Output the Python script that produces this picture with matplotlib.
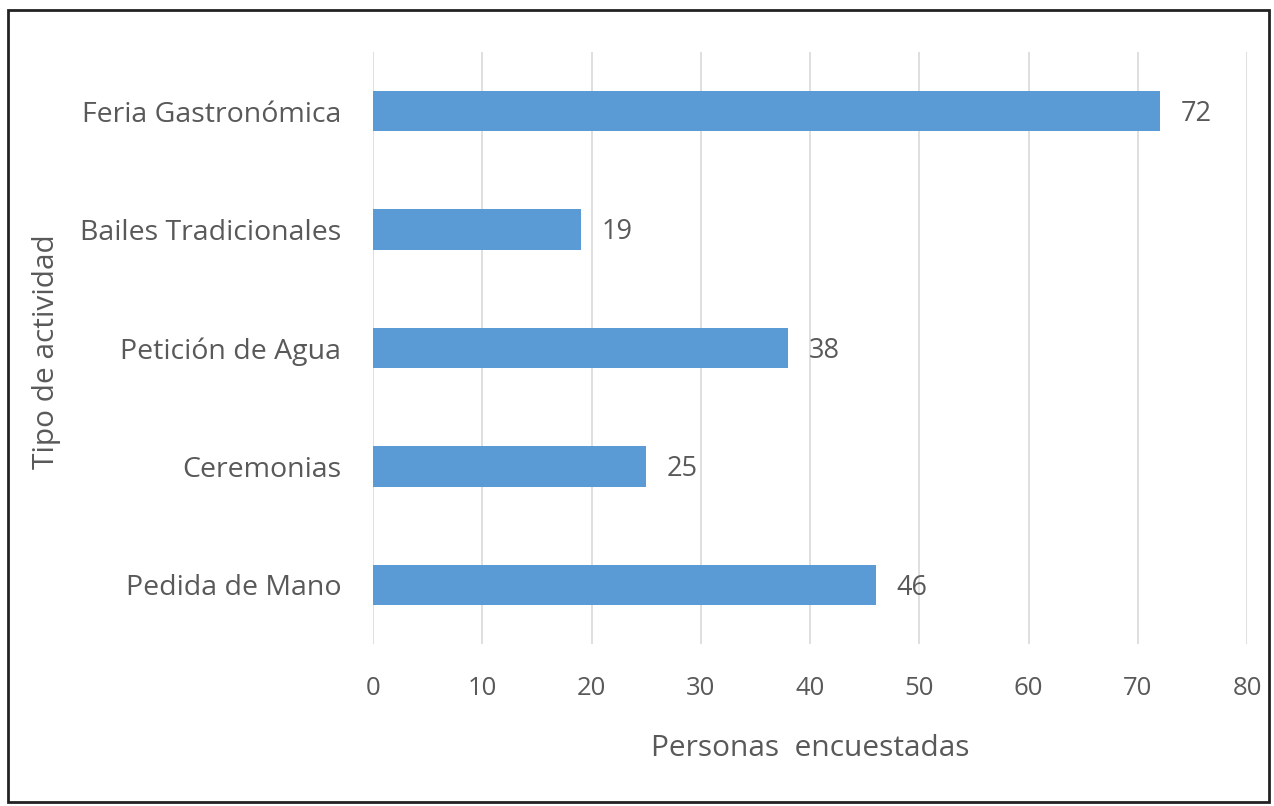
import matplotlib
matplotlib.use("Agg")
import matplotlib.pyplot as plt
from matplotlib.patches import Rectangle

categories = ["Feria Gastronómica", "Bailes Tradicionales", "Petición de Agua", "Ceremonias", "Pedida de Mano"]
values = [72, 19, 38, 25, 46]
xticks = [0, 10, 20, 30, 40, 50, 60, 70, 80]

plt.rcParams['font.family'] = ['Open Sans', 'DejaVu Sans']
txt = '#595959'
fig = plt.figure(figsize=(12.74, 8.06), dpi=100)
ax = fig.add_axes([373/1274, 1-644/806, 874/1274, 592/806])

ypos = list(range(len(categories)))[::-1]
ax.barh(ypos, values, height=0.34, color='#5B9BD5', zorder=3)
for y, v in zip(ypos, values):
    ax.annotate(str(v), (v, y), xytext=(15, -2), textcoords='offset points',
                va='center', ha='left', fontsize=19.5, color=txt)

ax.set_xlim(0, 80)
ax.set_ylim(-0.5, len(categories)-0.5)
ax.set_xticks(xticks)
ax.set_xticklabels([str(t) for t in xticks])
ax.set_yticks(ypos)
ax.set_yticklabels(categories)
ax.tick_params(axis='both', length=0, colors=txt)
ax.tick_params(axis='y', pad=23, labelsize=20.5)
ax.tick_params(axis='x', pad=23, labelsize=18.5)
ax.grid(axis='x', color='#D9D9D9', linewidth=1.2, zorder=0)
for s in ax.spines.values():
    s.set_visible(False)

ax.set_xlabel("Personas  encuestadas", fontsize=21.5, color=txt, labelpad=24)
fig.text(47/1274, 1-352/806, "Tipo de actividad", rotation=90, fontsize=21.5,
         color=txt, ha='center', va='center')

fig.patches.append(Rectangle((8/1274, 1-802/806), 1261/1274, 792/806,
                             transform=fig.transFigure, fill=False,
                             edgecolor='#222222', linewidth=2))

fig.savefig("out.png", dpi=100)
